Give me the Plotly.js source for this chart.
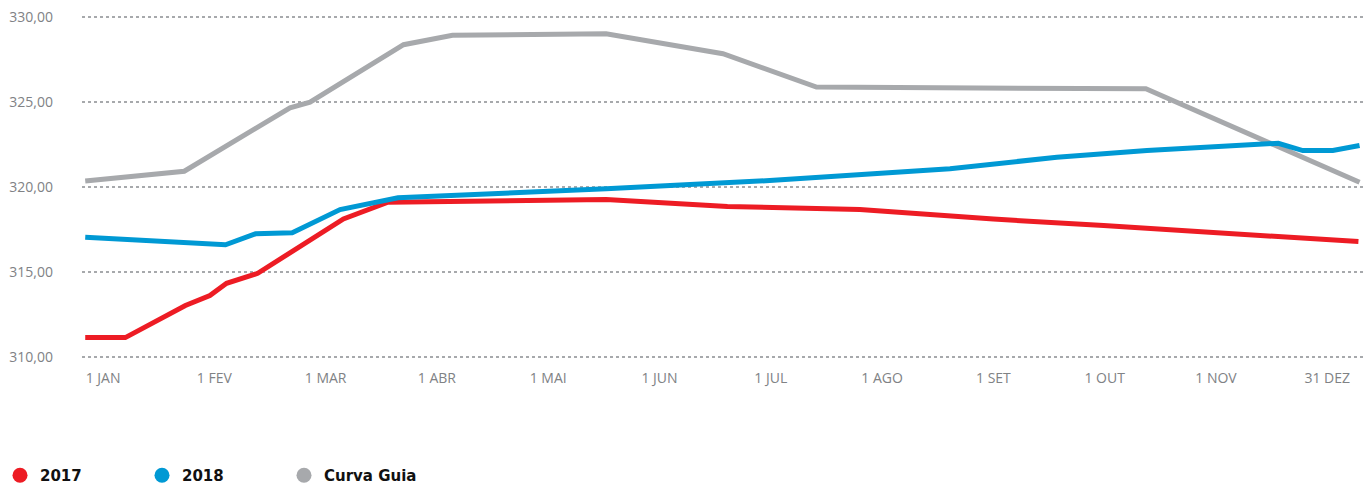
<!DOCTYPE html>
<html>
<head>
<meta charset="utf-8">
<script src="https://cdn.plot.ly/plotly-3.0.1.min.js"></script>
<style>html,body{margin:0;padding:0;background:#fff;}#chart{width:1365px;height:484px;}</style>
</head>
<body>
<div id="chart"></div>
<script>
// x positions in month units: 0 = 1 JAN, 1 = 1 FEV, ..., 11 = 31 DEZ
var tickPositions = [0,1,2,3,4,5,6,7,8,9,10,11];
var tickLabels = ["1 JAN","1 FEV","1 MAR","1 ABR","1 MAI","1 JUN","1 JUL","1 AGO","1 SET","1 OUT","1 NOV","31 DEZ"];

var x2017 = [-0.16,0.20,0.74,0.96,1.11,1.39,2.16,2.56,4.52,5.61,6.80,8.00,8.99,9.99,11.28];
var y2017 = [311.12,311.12,313.01,313.60,314.32,314.91,318.12,319.10,319.26,318.85,318.67,318.11,317.73,317.30,316.78];

var x2018 = [-0.16,1.10,1.37,1.70,2.13,2.65,4.52,5.99,7.61,8.57,9.38,10.24,10.56,10.78,11.05,11.29];
var y2018 = [317.04,316.59,317.24,317.30,318.67,319.36,319.90,320.38,321.07,321.76,322.15,322.50,322.58,322.15,322.15,322.45];

var xGuia = [-0.16,0.73,1.68,1.86,2.70,3.14,4.52,5.57,6.41,9.37,11.29];
var yGuia = [320.35,320.93,324.67,325.00,328.39,328.94,329.04,327.86,325.89,325.79,320.28];

var seriesNames = ["2017","2018","Curva Guia"];
var seriesColors = ["#ed1c24","#0099d4","#a7a9ac"];

var lines = [
  {x:x2017, y:y2017},
  {x:x2018, y:y2018},
  {x:xGuia, y:yGuia}
];

var data = [];
// draw Curva Guia first (behind), then 2017, then 2018
[2,0,1].forEach(function(i){
  data.push({
    type:"scatter", mode:"lines", x:lines[i].x, y:lines[i].y,
    line:{color:seriesColors[i], width:5, shape:"linear"},
    showlegend:false, hoverinfo:"skip", name:seriesNames[i]
  });
});
// legend entries (circle markers)
[0,1,2].forEach(function(i){
  data.push({
    type:"scatter", mode:"markers", x:[null], y:[null],
    marker:{color:seriesColors[i], size:15, symbol:"circle"},
    name:seriesNames[i], showlegend:true
  });
});

var layout = {
  width:1365, height:484,
  margin:{l:82, r:0, t:14, b:124, autoexpand:false},
  paper_bgcolor:"#ffffff", plot_bgcolor:"#ffffff",
  separators:",.",
  font:{family:"Open Sans, sans-serif", size:14, color:"#808285"},
  xaxis:{
    range:[-0.189, 11.339],
    tickmode:"array", tickvals:tickPositions, ticktext:tickLabels,
    showgrid:false, zeroline:false, showline:false, ticks:"",
    ticklabelstandoff:8,
    tickfont:{family:"Open Sans, sans-serif", size:14, color:"#808285"}
  },
  yaxis:{
    range:[309.8, 330.2],
    tickmode:"array", tickvals:[310,315,320,325,330],
    tickformat:".2f",
    showgrid:true, gridcolor:"#a7a9ac", gridwidth:2, griddash:"dot",
    zeroline:false, showline:false, ticks:"",
    ticklabelstandoff:28,
    tickfont:{family:"Open Sans, sans-serif", size:14, color:"#808285"}
  },
  showlegend:true,
  legend:{
    orientation:"h", xref:"container", yref:"paper",
    x:0, xanchor:"left", y:-0.286, yanchor:"top",
    entrywidth:97, entrywidthmode:"pixels",
    font:{family:"DejaVu Sans, sans-serif", size:15, color:"#111111", weight:"bold"},
    bgcolor:"rgba(0,0,0,0)", borderwidth:0
  }
};

Plotly.newPlot("chart", data, layout, {displayModeBar:false, staticPlot:true});
</script>
</body>
</html>
